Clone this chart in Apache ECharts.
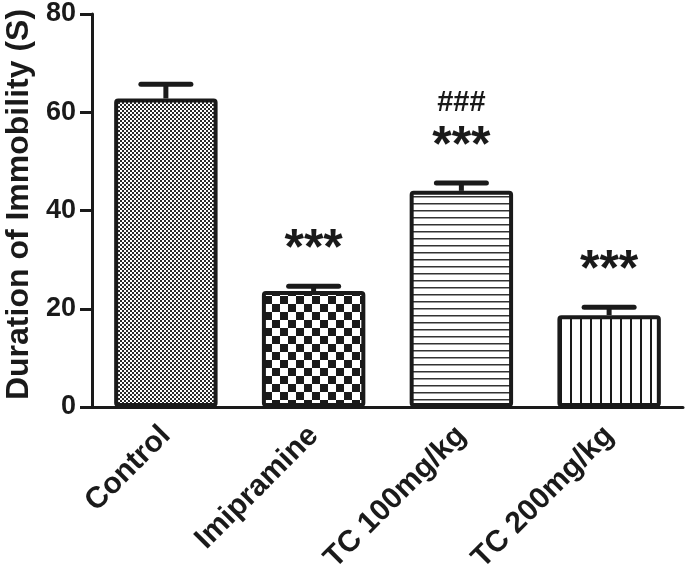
<!DOCTYPE html>
<html>
<head>
<meta charset="utf-8">
<script src="https://cdn.jsdelivr.net/npm/echarts@6/dist/echarts.min.js"></script>
<style>
html,body{margin:0;padding:0;background:#fff;}
#chart{width:688px;height:577px;}
</style>
</head>
<body>
<div id="chart"></div>
<script>
const categories = ['Control', 'Imipramine', 'TC 100mg/kg', 'TC 200mg/kg'];
const means = [62.8, 23.6, 44.0, 18.7];
const sems = [2.9, 1.0, 1.6, 1.6];
const starLabels = ['', '***', '***', '***'];
const hashLabels = ['', '', '###', ''];
const yTicks = [0, 20, 40, 60, 80];

const INK = '#1a1a1a';
const FONT = '"Liberation Sans", Arial, Helvetica, sans-serif';

function pattern(kind) {
  const c = document.createElement('canvas');
  let ctx;
  if (kind === 'fine') {
    c.width = 4; c.height = 4; ctx = c.getContext('2d');
    ctx.fillStyle = '#fff'; ctx.fillRect(0, 0, 4, 4);
    ctx.fillStyle = '#2a2a2a'; ctx.fillRect(0, 0, 2, 2); ctx.fillRect(2, 2, 2, 2);
  } else if (kind === 'checker') {
    c.width = 16; c.height = 16; ctx = c.getContext('2d');
    ctx.fillStyle = '#fff'; ctx.fillRect(0, 0, 16, 16);
    ctx.fillStyle = INK; ctx.fillRect(0, 0, 8, 8); ctx.fillRect(8, 8, 8, 8);
  } else if (kind === 'hlines') {
    c.width = 7; c.height = 7; ctx = c.getContext('2d');
    ctx.fillStyle = '#fff'; ctx.fillRect(0, 0, 7, 7);
    ctx.fillStyle = '#333'; ctx.fillRect(0, 0, 7, 1.5);
  } else {
    c.width = 10; c.height = 10; ctx = c.getContext('2d');
    ctx.fillStyle = '#fff'; ctx.fillRect(0, 0, 10, 10);
    ctx.fillStyle = INK; ctx.fillRect(0, 0, 2, 10);
  }
  return { image: c, repeat: 'repeat' };
}
const patterns = [pattern('fine'), pattern('checker'), pattern('hlines'), pattern('vlines')];

const chart = echarts.init(document.getElementById('chart'), null, { renderer: 'canvas' });

const option = {
  animation: false,
  backgroundColor: '#fff',
  grid: { left: 92, right: 5, top: 14, bottom: 170, containLabel: false, outerBoundsMode: 'none' },
  xAxis: {
    type: 'category',
    data: categories,
    boundaryGap: true,
    axisLine: { lineStyle: { color: INK, width: 3 } },
    axisTick: { alignWithLabel: true, length: 12, lineStyle: { color: INK, width: 3 } },
    axisLabel: {
      rotate: 45, margin: 24, color: INK,
      fontFamily: FONT, fontWeight: 'bold', fontSize: 30
    }
  },
  yAxis: {
    type: 'value',
    min: 0, max: 80, interval: 20,
    name: 'Duration of Immobility (S)',
    nameLocation: 'middle',
    nameGap: 56,
    nameTextStyle: { color: INK, fontFamily: FONT, fontWeight: 'bold', fontSize: 32, padding: [0, 0, 0, 12] },
    axisLine: { show: true, lineStyle: { color: INK, width: 3 } },
    axisTick: { show: true, length: 12, lineStyle: { color: INK, width: 3 } },
    splitLine: { show: false },
    axisLabel: {
      margin: 16, color: INK, fontFamily: FONT, fontWeight: 'bold', fontSize: 27,
      formatter: v => (yTicks.indexOf(v) >= 0 ? String(v) : '')
    }
  },
  series: [
    {
      type: 'bar',
      barWidth: '70%',
      data: means.map((m, i) => ({
        value: m,
        itemStyle: { color: patterns[i], borderColor: INK, borderWidth: 4, borderRadius: 2 }
      })),
      z: 2
    },
    {
      type: 'custom',
      z: 5,
      data: means.map((m, i) => [i, m, sems[i]]),
      renderItem: function (params, api) {
        const i = api.value(0);
        const m = api.value(1);
        const e = api.value(2);
        const base = api.coord([i, m]);
        const top = api.coord([i, m + e]);
        const half = 25;
        const children = [
          { type: 'line', shape: { x1: top[0], y1: base[1], x2: top[0], y2: top[1] },
            style: { stroke: INK, lineWidth: 5 } },
          { type: 'line', shape: { x1: top[0] - half, y1: top[1], x2: top[0] + half, y2: top[1] },
            style: { stroke: INK, lineWidth: 5, lineCap: 'round' } }
        ];
        if (starLabels[i]) {
          children.push({ type: 'text', style: {
            text: starLabels[i], x: top[0], y: top[1] - 36,
            align: 'center', verticalAlign: 'middle',
            font: 'bold 50px ' + FONT, fill: INK } });
        }
        if (hashLabels[i]) {
          children.push({ type: 'text', style: {
            text: hashLabels[i], x: top[0], y: top[1] - 80,
            align: 'center', verticalAlign: 'middle',
            font: 'bold 29px ' + FONT, fill: INK } });
        }
        return { type: 'group', children: children };
      }
    }
  ]
};
chart.setOption(option);
</script>
</body>
</html>
